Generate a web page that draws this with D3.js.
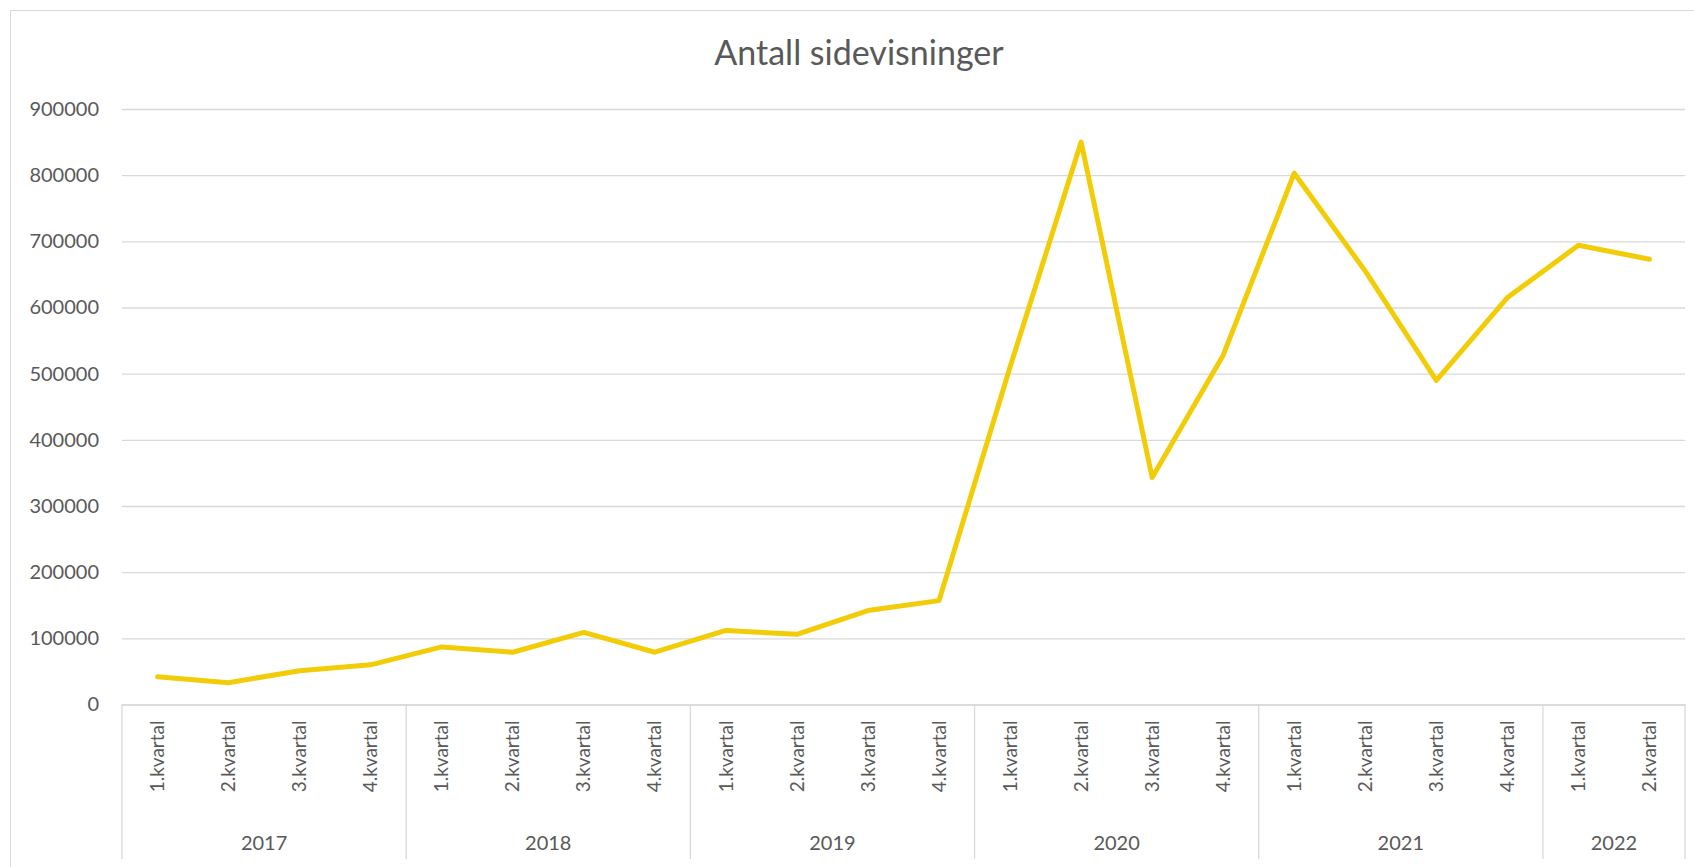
<!DOCTYPE html>
<html>
<head>
<meta charset="utf-8">
<script src="https://cdn.jsdelivr.net/npm/d3@7"></script>
<style>
  html, body { margin: 0; padding: 0; background: #fff; }
  svg { display: block; font-family: Lato, "Open Sans", sans-serif; }
</style>
</head>
<body>
<div id="chart"></div>
<script>
// data
const years = ["2017", "2018", "2019", "2020", "2021", "2022"];
const quartersPerYear = [4, 4, 4, 4, 4, 2];
const quarterNames = ["1.kvartal", "2.kvartal", "3.kvartal", "4.kvartal"];
const pageViews = [
  42000, 33000, 51000, 60000,
  87000, 79000, 109000, 79000,
  112000, 106000, 142000, 157000,
  510000, 850000, 343000, 528000,
  803000, 655000, 490000, 615000,
  694000, 673000
];
const yTicks = [0, 100000, 200000, 300000, 400000, 500000, 600000, 700000, 800000, 900000];

const width = 1694, height = 867;
const plotLeft = 122, plotRight = 1685, plotTop = 109, plotBottom = 704.5;
const textColor = "#595959", gridColor = "#d9d9d9";

// one entry per quarter, keyed by year + quarter
const categories = years.flatMap((yr, i) =>
  quarterNames.slice(0, quartersPerYear[i]).map((q) => ({ id: yr + "-" + q, year: yr, quarter: q }))
);
const points = categories.map((c, i) => ({ ...c, value: pageViews[i] }));

const svg = d3.select("#chart").append("svg")
  .attr("width", width)
  .attr("height", height);

// chart border
svg.append("rect")
  .attr("x", 10.5).attr("y", 10.5)
  .attr("width", 1720).attr("height", 900)
  .attr("fill", "#fff")
  .attr("stroke", gridColor);

const xScale = d3.scaleBand()
  .domain(categories.map((d) => d.id))
  .range([plotLeft, plotRight])
  .padding(0);

const yScale = d3.scaleLinear()
  .domain([0, 900000])
  .range([plotBottom, plotTop]);

// title
svg.append("text")
  .attr("x", 859)
  .attr("y", 65)
  .attr("text-anchor", "middle")
  .style("font-size", "34px")
  .style("fill", textColor)
  .text("Antall sidevisninger");

// 1. value axis + gridlines
const yAxis = svg.append("g")
  .attr("class", "y-axis")
  .attr("transform", `translate(${plotLeft},0)`)
  .call(d3.axisLeft(yScale)
    .tickValues(yTicks)
    .tickSize(-(plotRight - plotLeft))
    .tickPadding(23)
    .tickFormat(d3.format("d")));

yAxis.select(".domain").remove();
yAxis.selectAll("line").attr("stroke", gridColor).attr("stroke-width", 1.3);
yAxis.selectAll("text")
  .style("font-size", "20px")
  .style("font-family", "Lato, sans-serif")
  .style("fill", textColor);

// 2. category axis: quarters
const xAxis = svg.append("g")
  .attr("class", "x-axis")
  .attr("transform", `translate(0,${plotBottom})`)
  .call(d3.axisBottom(xScale)
    .tickSize(0)
    .tickFormat((id) => categories.find((c) => c.id === id).quarter));

xAxis.select(".domain").attr("stroke", gridColor).attr("stroke-width", 1.3);
xAxis.selectAll("text")
  .attr("transform", "rotate(-90)")
  .attr("x", -16)
  .attr("y", 0)
  .attr("dy", "0.35em")
  .attr("text-anchor", "end")
  .style("font-size", "19px")
  .style("font-family", "Lato, sans-serif")
  .style("fill", textColor);

// year groups: separators and labels
const yearGroups = years.map((yr) => {
  const ids = categories.filter((c) => c.year === yr).map((c) => c.id);
  const x0 = xScale(ids[0]);
  const x1 = xScale(ids[ids.length - 1]) + xScale.bandwidth();
  return { year: yr, x0, x1 };
});

const separators = yearGroups.map((g) => g.x0).concat([plotRight]);
svg.append("g")
  .selectAll("line")
  .data(separators)
  .enter()
  .append("line")
  .attr("x1", (d) => d).attr("x2", (d) => d)
  .attr("y1", plotBottom).attr("y2", 859)
  .attr("stroke", gridColor)
  .attr("stroke-width", 1.3);

svg.append("g")
  .selectAll("text")
  .data(yearGroups)
  .enter()
  .append("text")
  .attr("x", (d) => (d.x0 + d.x1) / 2)
  .attr("y", 850)
  .attr("text-anchor", "middle")
  .style("font-size", "20px")
  .style("fill", textColor)
  .text((d) => d.year);

// 3. the line
const line = d3.line()
  .x((d) => xScale(d.id) + xScale.bandwidth() / 2)
  .y((d) => yScale(d.value));

svg.append("path")
  .datum(points)
  .attr("d", line)
  .attr("fill", "none")
  .attr("stroke", "#F2CD07")
  .attr("stroke-width", 5)
  .attr("stroke-linejoin", "round")
  .attr("stroke-linecap", "round");
</script>
</body>
</html>
